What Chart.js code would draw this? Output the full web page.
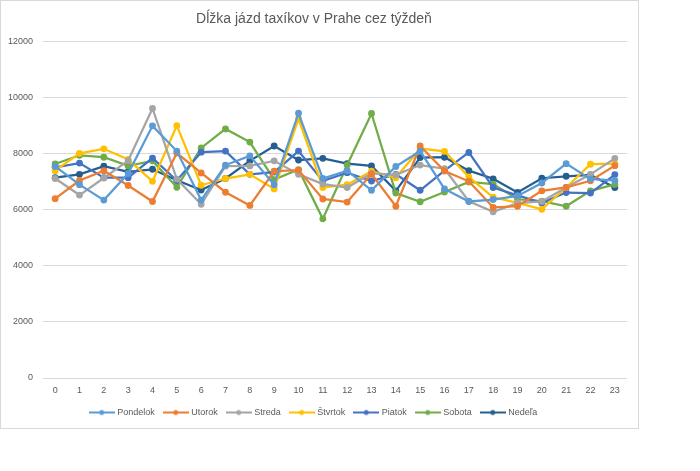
<!DOCTYPE html>
<html lang="sk">
<head>
    <meta charset="UTF-8">
    <title>Dĺžka jázd taxíkov v Prahe cez týždeň</title>
    <script src="https://cdn.jsdelivr.net/npm/chart.js"></script>
</head>
<style>
    body {
    margin: 0;
    background: white;
}

#box {
    position: absolute;
    left: 0;
    top: 0;
    width: 637px;
    height: 427px;
    border: 1px solid #d9d9d9;
}
</style>
<body>
    <div id="box"><canvas id="taxiChart" width="637" height="427"></canvas></div>
    <script>
// hours of the day
const hours = ['0','1','2','3','4','5','6','7','8','9','10','11','12','13','14','15','16','17','18','19','20','21','22','23'];
const yTicks = [0, 2000, 4000, 6000, 8000, 10000, 12000];

const pondelok = [7550, 6900, 6350, 7300, 9000, 8100, 6350, 7600, 7930, 6900, 9450, 7120, 7400, 6700, 7550, 8100, 6750, 6300, 6370, 6500, 6960, 7650, 7100, 7050];
const utorok   = [6400, 7050, 7400, 6870, 6300, 8030, 7320, 6630, 6160, 7380, 7420, 6390, 6280, 7280, 6130, 8280, 7390, 7020, 6090, 6130, 6680, 6800, 7040, 7580];
const streda   = [7120, 6530, 7140, 7760, 9620, 7100, 6200, 7560, 7570, 7750, 7270, 6920, 6800, 7300, 7250, 7600, 7470, 6310, 5930, 6240, 6300, 6800, 7270, 7840];
const stvrtok  = [7400, 8020, 8180, 7800, 7020, 9010, 6880, 7120, 7270, 6750, 9250, 6800, 6900, 7380, 7150, 8190, 8090, 7180, 6450, 6250, 6020, 6800, 7630, 7650];
const piatok   = [7520, 7670, 7150, 7150, 7850, 7050, 8060, 8100, 7270, 7350, 8100, 7030, 7330, 7030, 7270, 6700, 7400, 8050, 6800, 6520, 6250, 6620, 6600, 7260];
const sobota   = [7640, 7950, 7880, 7570, 7750, 6810, 8210, 8890, 8420, 7080, 7440, 5680, 7600, 9440, 6600, 6290, 6640, 7000, 6920, 6380, 6310, 6130, 6680, 6910];
const nedela   = [7150, 7270, 7560, 7360, 7450, 7060, 6710, 7120, 7750, 8280, 7780, 7840, 7650, 7570, 6680, 7870, 7880, 7400, 7110, 6620, 7130, 7200, 7250, 6800];

const seriesNames = ['Pondelok', 'Utorok', 'Streda', 'Štvrtok', 'Piatok', 'Sobota', 'Nedeľa'];
const seriesData = [pondelok, utorok, streda, stvrtok, piatok, sobota, nedela];
const colors = ['#5b9bd5', '#ed7d31', '#a5a5a5', '#ffc000', '#4472c4', '#70ad47', '#255e91'];

const textColor = '#595959';
const gridColor = '#d9d9d9';

// little line + dot picture for the legend, like in Excel
function legendIcon(color) {
    const c = document.createElement('canvas');
    c.width = 26;
    c.height = 8;
    const g = c.getContext('2d');
    g.strokeStyle = color;
    g.lineWidth = 2;
    g.beginPath();
    g.moveTo(0, 4);
    g.lineTo(26, 4);
    g.stroke();
    g.fillStyle = color;
    g.beginPath();
    g.arc(13, 4, 2.5, 0, Math.PI * 2);
    g.fill();
    return c;
}

const datasets = seriesNames.map((name, i) => ({
    label: name,
    data: seriesData[i],
    borderColor: colors[i],
    backgroundColor: colors[i],
    pointBackgroundColor: colors[i],
    pointBorderColor: colors[i],
    borderWidth: 2.25,
    pointRadius: 2.3,
    tension: 0,
    fill: false
}));

const ctx = document.getElementById('taxiChart').getContext('2d');
new Chart(ctx, {
    type: 'line',
    data: {
        labels: hours,
        datasets: datasets
    },
    options: {
        responsive: false,
        animation: false,
        layout: {
            padding: { left: 0, right: 11, top: 0, bottom: 1 }
        },
        plugins: {
            title: {
                display: true,
                text: 'Dĺžka jázd taxíkov v Prahe cez týždeň',
                color: textColor,
                font: { family: 'Liberation Sans', size: 14, weight: 'normal' },
                padding: { top: 10, bottom: 14 }
            },
            legend: {
                position: 'bottom',
                labels: {
                    color: textColor,
                    font: { family: 'Liberation Sans', size: 9 },
                    usePointStyle: true,
                    pointStyleWidth: 22,
                    padding: 10,
                    generateLabels: chart => chart.data.datasets.map((ds, i) => ({
                        text: ds.label,
                        fontColor: textColor,
                        pointStyle: legendIcon(ds.borderColor),
                        datasetIndex: i,
                        hidden: false,
                        lineWidth: 0
                    }))
                }
            },
            tooltip: { enabled: false }
        },
        scales: {
            x: {
                offset: true,
                grid: { display: false, drawTicks: false },
                border: { display: false },
                ticks: {
                    color: textColor,
                    font: { family: 'Liberation Sans', size: 9 },
                    padding: 7,
                    maxRotation: 0,
                    autoSkip: false
                },
                afterFit: scale => { scale.height = 20; }
            },
            y: {
                min: 0,
                max: 12000,
                grid: { color: gridColor, lineWidth: 1, drawTicks: false },
                border: { display: false },
                afterBuildTicks: scale => { scale.ticks = yTicks.map(v => ({ value: v })); },
                ticks: {
                    color: textColor,
                    font: { family: 'Liberation Sans', size: 9 },
                    padding: 10,
                    callback: v => String(v)
                },
                afterFit: scale => { scale.width = 42; }
            }
        }
    }
});
    </script>
</body>
</html>
